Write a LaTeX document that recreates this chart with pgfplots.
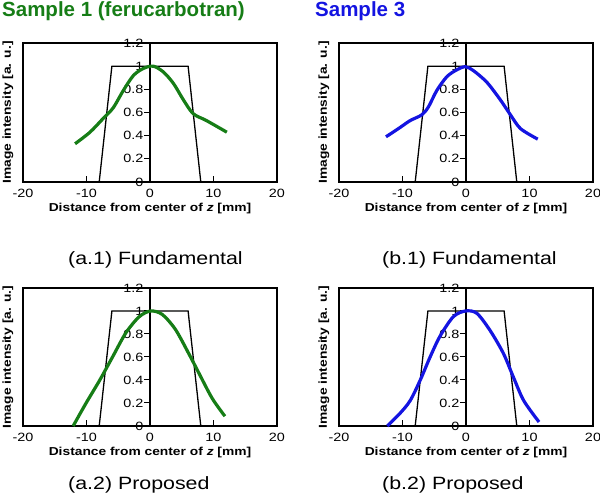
\documentclass[border=0pt]{standalone}
\usepackage{pgfplots}
\pgfplotsset{compat=1.18}
\usepackage{fontspec}
\setmainfont{Liberation Sans}[FakeStretch=1.2]
\newfontfamily\plainsans{Liberation Sans}
\definecolor{sgreen}{RGB}{22,125,22}
\definecolor{sblue}{RGB}{20,20,225}
\pgfplotsset{
  myaxis/.style={
    scale only axis, width=254bp, height=139bp,
    xmin=-20, xmax=20, ymin=0, ymax=1.2,
    clip=false,
    axis line style={line width=1.2bp},
    xtick={-20,-10,0,10,20}, xticklabels={-20,-10,0,10,20},
    ytick={0,0.2,0.4,0.6,0.8,1,1.2}, yticklabels={0,0.2,0.4,0.6,0.8,1,1.2},
    xtick pos=bottom, ytick pos=left,
    tick align=inside,
    major tick length=6bp,
    tick style={black, line width=1bp},
    ytick style={xshift=121bp},
    extra x ticks={0}, extra x tick labels={},
    extra x tick style={grid=major, major grid style={black, line width=1.2bp}, major tick length=0pt},
    tick label style={font=\fontsize{12bp}{14bp}\selectfont},
    xticklabel style={yshift=-4bp},
    yticklabel style={xshift=124bp},
    every axis x label/.style={at={([yshift=-21bp]rel axis cs:0.5,0)}, anchor=north, inner sep=0pt,
      font=\fontsize{11.5bp}{13bp}\selectfont\bfseries},
    every axis y label/.style={at={([xshift=-9.5bp]rel axis cs:0,0.5)}, rotate=90, anchor=south, inner sep=0pt,
      font=\fontsize{11.5bp}{13bp}\selectfont\bfseries},
    xlabel={Distance from center of \textit{z} [mm]},
    ylabel={Image intensity [a. u.]},
  }
}
\begin{document}
\begin{tikzpicture}
\useasboundingbox (0bp,0bp) rectangle (600bp,496bp);
% titles
\node[anchor=base west, inner sep=0pt, text=sgreen, font=\fontsize{20.5bp}{24bp}\selectfont\plainsans\bfseries] at (2bp,479bp) {Sample 1 (ferucarbotran)};
\node[anchor=base west, inner sep=0pt, text=sblue, font=\fontsize{20.5bp}{24bp}\selectfont\plainsans\bfseries] at (315bp,479bp) {Sample 3};
\node[anchor=base west, inner sep=0pt, font=\fontsize{17.8bp}{22bp}\selectfont] at (68bp,231bp) {(a.1) Fundamental};
\node[anchor=base west, inner sep=0pt, font=\fontsize{17.8bp}{22bp}\selectfont] at (382bp,231bp) {(b.1) Fundamental};
\node[anchor=base west, inner sep=0pt, font=\fontsize{17.8bp}{22bp}\selectfont] at (68bp,7bp) {(a.2) Proposed};
\node[anchor=base west, inner sep=0pt, font=\fontsize{17.8bp}{22bp}\selectfont] at (382bp,7bp) {(b.2) Proposed};

% (a.1)
\begin{axis}[myaxis, at={(23bp,314bp)}, anchor=south west]
\addplot[black, line width=1.3bp] coordinates {(-8,0) (-6,1) (6,1) (8,0)};
\addplot[sgreen, line width=3.2bp, smooth] coordinates {
(-11.8,0.33) (-9.45,0.43) (-7.35,0.55) (-5.8,0.64) (-4.2,0.79) (-2.6,0.92) (-1.05,0.98) (0.5,1.0)
(2.1,0.95) (3.7,0.85) (5.25,0.71) (6.8,0.59) (8.9,0.53) (12.1,0.43)};
\end{axis}

% (b.1)
\begin{axis}[myaxis, at={(339bp,314bp)}, anchor=south west]
\addplot[black, line width=1.3bp] coordinates {(-8,0) (-6,1) (6,1) (8,0)};
\addplot[sblue, line width=3.2bp, smooth] coordinates {
(-12.6,0.39) (-10.4,0.47) (-8.8,0.53) (-6.96,0.58) (-5.9,0.65) (-4.6,0.79) (-3.0,0.91) (-1.4,0.97) (-0.1,0.995)
(1.2,0.96) (3.3,0.86) (5.4,0.71) (7.0,0.58) (8.6,0.46) (11.3,0.37)};
\end{axis}

% (a.2)
\begin{axis}[myaxis, at={(23bp,70bp)}, anchor=south west, height=138bp]
\addplot[black, line width=1.3bp] coordinates {(-8,0) (-6,1) (6,1) (8,0)};
\addplot[sgreen, line width=3.2bp, smooth] coordinates {
(-12.1,0.0) (-10.1,0.196) (-7.9,0.40) (-5.9,0.60) (-3.8,0.81) (-1.7,0.95) (0.1,1.0)
(1.93,0.97) (4.0,0.84) (6.1,0.63) (7.7,0.46) (9.8,0.24) (11.8,0.085)};
\end{axis}

% (b.2)
\begin{axis}[myaxis, at={(339bp,70bp)}, anchor=south west, height=138bp]
\addplot[black, line width=1.3bp] coordinates {(-8,0) (-6,1) (6,1) (8,0)};
\addplot[sblue, line width=3.2bp, smooth] coordinates {
(-12.4,0.0) (-10.4,0.11) (-8.8,0.22) (-7.2,0.40) (-5.65,0.60) (-4.1,0.78) (-2.0,0.95) (-0.1,1.0)
(1.7,0.98) (3.8,0.83) (5.9,0.63) (7.5,0.42) (9.1,0.22) (11.5,0.035)};
\end{axis}
\end{tikzpicture}
\end{document}
